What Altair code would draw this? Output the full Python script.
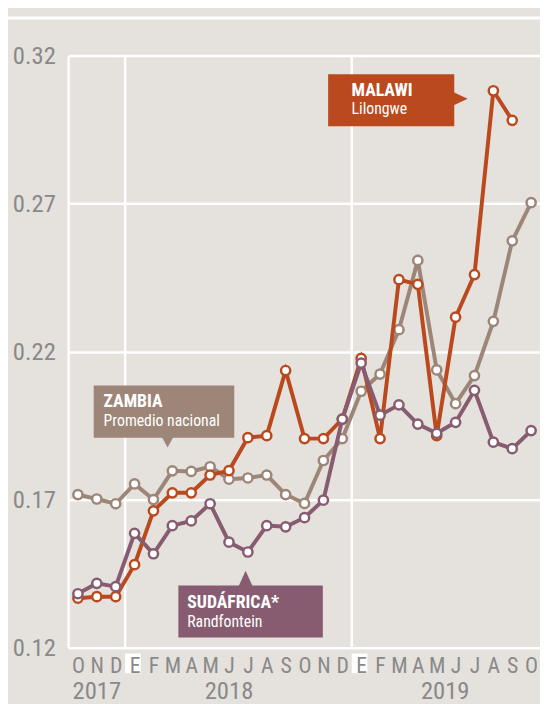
import altair as alt
import pandas as pd

# ---------------- data ----------------
months = ["O", "N", "D", "E", "F", "M", "A", "M", "J", "J", "A", "S",
          "O", "N", "D", "E", "F", "M", "A", "M", "J", "J", "A", "S", "O"]
month_idx = list(range(len(months)))
years = ["2017", "2018", "2019"]
year_pos = [1.0, 8.0, 19.45]
y_ticks = [0.12, 0.17, 0.22, 0.27, 0.32]
year_breaks = [2.5, 14.5]
jan_idx = [3, 15]

zambia = [0.1717, 0.1702, 0.1686, 0.1753, 0.1700, 0.1797, 0.1795, 0.1811, 0.1769,
          0.1773, 0.1783, 0.1717, 0.1687, 0.1832, 0.1906, 0.2066, 0.2124, 0.2274,
          0.2508, 0.2138, 0.2024, 0.2119, 0.2302, 0.2574, 0.2703]
malawi = [0.1367, 0.1372, 0.1372, 0.1480, 0.1662, 0.1723, 0.1723, 0.1783, 0.1798,
          0.1909, 0.1916, 0.2136, 0.1906, 0.1906, 0.1972, 0.2177, 0.1906, 0.2443,
          0.2427, 0.1916, 0.2316, 0.2460, 0.3081, 0.2981, None]
sudafrica = [0.1382, 0.1417, 0.1406, 0.1586, 0.1517, 0.1612, 0.1628, 0.1686, 0.1556,
             0.1523, 0.1612, 0.1608, 0.1639, 0.1698, 0.1972, 0.2161, 0.1985, 0.2020,
             0.1955, 0.1924, 0.1961, 0.2069, 0.1894, 0.1872, 0.1933]

series_values = [zambia, malawi, sudafrica]
series_names = ["ZAMBIA", "MALAWI", "SUDÁFRICA*"]
series_sub = ["Promedio nacional", "Lilongwe", "Randfontein"]
series_colors = ["#9d8678", "#ba4a1e", "#885c70"]

# annotation boxes (in data units: month index / USD per kg)
box_x1 = [0.835, 13.25, 5.32]
box_x2 = [8.28, 19.93, 12.97]
box_y1 = [0.1909, 0.2961, 0.1234]
box_y2 = [0.2085, 0.3137, 0.1410]
label_x = [1.36, 14.49, 5.79]
title_y = [0.2013, 0.3063, 0.1334]
sub_y = [0.1950, 0.3004, 0.1271]
pointer_x = [4.75, 19.9, 8.88]
pointer_y = [0.1912, 0.3054, 0.1408]
pointer_shape = ["M -1 0 L 1 0 L 0 1.8 Z", "M 0 -1 L 2.1 0 L 0 1 Z", "M -1 0 L 1 0 L 0 -2.2 Z"]
pointer_size = [144, 180, 196]

# ---------------- style ----------------
BG = "#e5e1dd"
GRAY = "#898989"
FONT = "Liberation Sans Narrow, Roboto Condensed, Arial Narrow, sans-serif"
W, H = 479, 601

xscale = alt.Scale(domain=[-0.52, 24.47], nice=False, zero=False)
yscale = alt.Scale(domain=[0.12, 0.32], nice=False, zero=False)

label_expr = "[" + ",".join("'%s'" % m for m in months) + "][datum.value]"
xaxis = alt.Axis(values=month_idx, labelExpr=label_expr, grid=False, ticks=False, tickSize=0,
                 domain=True, domainColor="white", domainWidth=2.5, labelFont=FONT,
                 labelFontSize=22, labelColor=GRAY, labelPadding=8, labelOverlap=False,
                 labelFlush=False, labelBound=False, title=None, zindex=1)
yaxis = alt.Axis(values=y_ticks, format=".2f", grid=True, gridColor="white", gridWidth=2.5,
                 gridOpacity=1, ticks=False, tickSize=0, domain=True, domainColor="white",
                 domainWidth=2.5, labelFont=FONT, labelFontSize=25, labelColor=GRAY,
                 labelPadding=13, title=None)


def X(field):
    return alt.X(field, type="quantitative", scale=xscale, axis=xaxis)


def Y(field):
    return alt.Y(field, type="quantitative", scale=yscale, axis=yaxis)


layers = []

# vertical year separators
breaks_df = pd.DataFrame({"i": year_breaks})
layers.append(alt.Chart(breaks_df).mark_rule(color="white", strokeWidth=2.5).encode(x=X("i")))

# top separator line
layers.append(alt.Chart(breaks_df.head(1)).mark_rule(color="white", strokeWidth=3).encode(
    x=alt.value(-61), x2=alt.value(W), y=alt.value(-38)))

# white boxes behind "E" labels
jan_df = pd.DataFrame({"a": [j - 0.5 for j in jan_idx], "b": [j + 0.33 for j in jan_idx]})
layers.append(alt.Chart(jan_df).mark_rect(color="white").encode(
    x=X("a"), x2="b", y=alt.value(607), y2=alt.value(627)))

# year labels
years_df = pd.DataFrame({"i": year_pos, "t": years})
layers.append(alt.Chart(years_df).mark_text(font=FONT, fontSize=25, color=GRAY, align="center",
                                            baseline="alphabetic").encode(
    x=X("i"), y=alt.value(653), text="t:N"))

# series
for vals, col in zip(series_values, series_colors):
    rows = [(i, v) for i, v in zip(month_idx, vals) if v is not None]
    df = pd.DataFrame(rows, columns=["i", "v"])
    base = alt.Chart(df)
    layers.append(base.mark_line(color=col, strokeWidth=4).encode(x=X("i"), y=Y("v")))
    layers.append(base.mark_point(shape="circle", filled=True, fill="white", stroke=col,
                                  strokeWidth=2.5, size=88, opacity=1).encode(x=X("i"), y=Y("v")))

# annotation boxes
for k in range(3):
    bdf = pd.DataFrame({"x1": [box_x1[k]], "x2": [box_x2[k]], "y1": [box_y1[k]], "y2": [box_y2[k]]})
    layers.append(alt.Chart(bdf).mark_rect(color=series_colors[k]).encode(
        x=X("x1"), x2="x2", y=Y("y1"), y2="y2"))
    pdf = pd.DataFrame({"x": [pointer_x[k]], "y": [pointer_y[k]]})
    layers.append(alt.Chart(pdf).mark_point(shape=pointer_shape[k], filled=True,
                                            color=series_colors[k], size=pointer_size[k],
                                            opacity=1, strokeWidth=0).encode(
        x=X("x"), y=Y("y")))
    tdf = pd.DataFrame({"x": [label_x[k]], "y": [title_y[k]], "t": [series_names[k]]})
    layers.append(alt.Chart(tdf).mark_text(font=FONT, fontSize=18, fontWeight="bold",
                                           color="white", align="left",
                                           baseline="alphabetic").encode(
        x=X("x"), y=Y("y"), text="t:N"))
    sdf = pd.DataFrame({"x": [label_x[k]], "y": [sub_y[k]], "t": [series_sub[k]]})
    layers.append(alt.Chart(sdf).mark_text(font=FONT, fontSize=16, color="white", align="left",
                                           baseline="alphabetic").encode(
        x=X("x"), y=Y("y"), text="t:N"))

chart = alt.layer(*layers).properties(
    width=W, height=H,
    autosize=alt.AutoSizeParams(type="none"),
    padding={"left": 61, "top": 43, "right": 0, "bottom": 52},
    background=BG,
).configure_view(stroke="transparent")

chart.save("out.html", embed_options={"renderer": "svg", "actions": False})
